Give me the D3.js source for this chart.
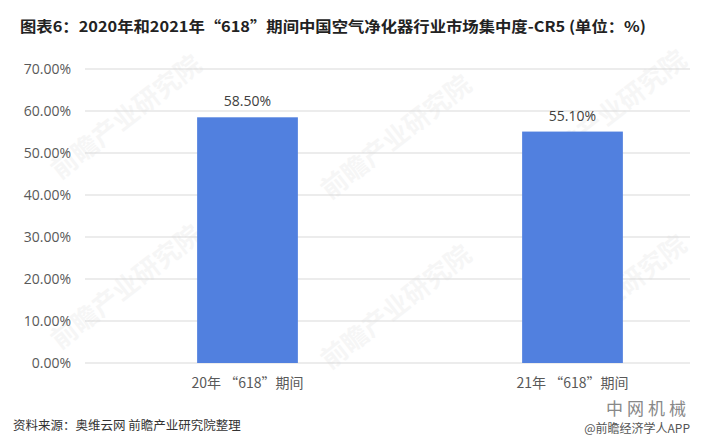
<!DOCTYPE html>
<html><head><meta charset="utf-8">
<script src="https://cdn.jsdelivr.net/npm/d3@7"></script>
<style>body{margin:0;background:#fff;}svg{display:block;}</style>
</head><body>
<script>
const title = "图表6：2020年和2021年“618”期间中国空气净化器行业市场集中度-CR5 (单位：%)";
const categories = ["20年 “618”期间", "21年 “618”期间"];
const values = [58.5, 55.1];
const yTicks = [0, 10, 20, 30, 40, 50, 60, 70];
const source = "资料来源：奥维云网 前瞻产业研究院整理";

const W = 704, H = 445;
const svg = d3.select("body").append("svg").attr("width", W).attr("height", H);
const font = "'Noto Sans CJK SC', 'Microsoft YaHei', sans-serif";

// watermarks
const wm = [[60,180],[330,200],[60,350],[330,370],[545,175],[545,360]];
wm.forEach(([x,y]) => {
  svg.append("text").attr("x", x).attr("y", y)
    .attr("transform", `rotate(-38 ${x} ${y})`)
    .attr("font-family", font).attr("font-size", 26).attr("font-weight", "bold")
    .attr("fill", "#000").attr("opacity", 0.03).text("前瞻产业研究院");
});

const y = d3.scaleLinear().domain([0, 70]).range([363, 69]);
const x = d3.scaleBand().domain(categories).range([85, 735]).paddingInner(0.69).paddingOuter(0.345);

// title
svg.append("text").attr("x", 20).attr("y", 32)
  .attr("font-family", font).attr("font-size", 15).attr("font-weight", "bold")
  .attr("fill", "#222").attr("textLength", 626).attr("lengthAdjust", "spacingAndGlyphs")
  .text(title);

// gridlines
svg.append("g").selectAll("line").data(yTicks).join("line")
  .attr("x1", 85).attr("x2", 690)
  .attr("y1", d => y(d)).attr("y2", d => y(d))
  .attr("stroke", "#d9d9d9").attr("stroke-width", 1);

// y axis labels
const yAxis = d3.axisLeft(y).tickValues(yTicks).tickFormat(d => d.toFixed(2) + "%").tickSize(0).tickPadding(0);
const ga = svg.append("g").attr("transform", "translate(71,0)").call(yAxis);
ga.select(".domain").remove();
ga.selectAll("text").attr("font-family", "'Open Sans', 'Noto Sans', sans-serif").attr("font-size", 14).attr("fill", "#595959");

// bars
svg.append("g").selectAll("rect").data(values).join("rect")
  .attr("x", (d,i) => x(categories[i])).attr("width", x.bandwidth())
  .attr("y", d => y(d)).attr("height", d => y(0) - y(d))
  .attr("fill", "#5180df");

// value labels
svg.append("g").selectAll("text").data(values).join("text")
  .attr("x", (d,i) => x(categories[i]) + x.bandwidth()/2)
  .attr("y", d => y(d) - 11)
  .attr("text-anchor", "middle")
  .attr("font-family", "'Open Sans', 'Noto Sans', sans-serif").attr("font-size", 14).attr("fill", "#404040")
  .text(d => d.toFixed(2) + "%");

// category labels
const xAxis = d3.axisBottom(x).tickSize(0).tickPadding(0);
const gx = svg.append("g").attr("transform", "translate(0,378)").call(xAxis);
gx.select(".domain").remove();
gx.selectAll("text").attr("font-family", font).attr("font-size", 14).attr("fill", "#595959");

// source
svg.append("text").attr("x", 13).attr("y", 430)
  .attr("font-family", font).attr("font-size", 12.5).attr("fill", "#333")
  .text(source);

// bottom-right marks
svg.append("text").attr("x", 690).attr("y", 415).attr("text-anchor", "end")
  .attr("font-family", font).attr("font-size", 17).attr("fill", "#888").attr("letter-spacing", 4)
  .text("中网机械");
svg.append("text").attr("x", 690).attr("y", 433).attr("text-anchor", "end")
  .attr("font-family", font).attr("font-size", 12).attr("fill", "#555")
  .text("@前瞻经济学人APP");
</script>
</body></html>
